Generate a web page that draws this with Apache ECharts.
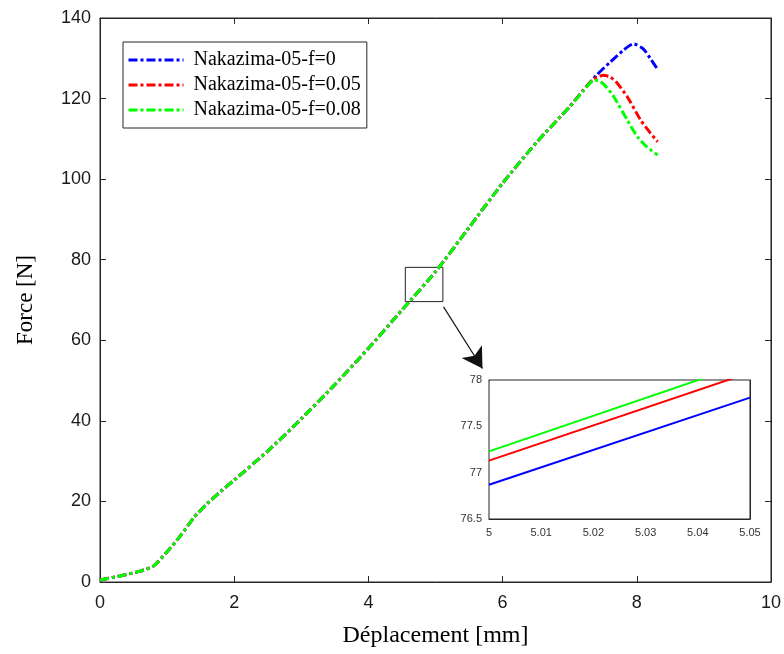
<!DOCTYPE html>
<html>
<head>
<meta charset="utf-8">
<script src="https://cdn.jsdelivr.net/npm/echarts@6/dist/echarts.min.js"></script>
<style>
html,body{margin:0;padding:0;background:#fff;}
#c{width:784px;height:654px;}
</style>
</head>
<body>
<div id="c"></div>
<script>
// Shared loading branch (all three curves coincide up to ~7 mm)
var baseX = [0, 0.3, 0.6, 0.8, 1.0, 1.2, 1.4, 1.6, 1.8, 2.0, 2.5, 3.0, 3.5, 4.0, 4.5, 5.0, 5.5, 6.0, 6.5, 7.0];
var baseY = [0.5, 1.5, 2.7, 4.0, 7.5, 11.5, 16, 19.5, 22.5, 25.3, 32.5, 40.5, 49, 58, 67.5, 77, 88, 99, 109, 118];
// Tails after the shared branch
var blueTailX = [7.2, 7.4, 7.6, 7.8, 7.95, 8.1, 8.2, 8.3];
var blueTailY = [122, 125.8, 129, 132, 133.6, 132.3, 130, 127.5];
var redTailX = [7.2, 7.35, 7.5, 7.6, 7.7, 7.86, 8.06, 8.2, 8.31];
var redTailY = [122, 124.8, 125.8, 125.4, 124, 120.4, 114.6, 111.5, 109.3];
var greenTailX = [7.2, 7.36, 7.46, 7.56, 7.66, 7.86, 8.01, 8.15, 8.31];
var greenTailY = [121.8, 124.6, 124.2, 122.6, 120.4, 114.6, 110.5, 108, 106];
// Inset (zoom) values
var insetX = [5, 5.05];
var insetBlue = [76.87, 77.81];
var insetRed = [77.13, 78.08];
var insetGreen = [77.23, 78.19];
// Zoom window marked on the main plot
var zoomBoxX = [4.55, 5.11];
var zoomBoxY = [69.6, 78.1];
var arrowFrom = [5.12, 68.3];
var arrowTo = [5.70, 53.0];

var names = ['Nakazima-05-f=0', 'Nakazima-05-f=0.05', 'Nakazima-05-f=0.08'];
var colors = ['#0000ff', '#ff0000', '#00ff00'];

function pairs(xs, ys) { var o = []; for (var i = 0; i < xs.length; i++) o.push([xs[i], ys[i]]); return o; }
var blueData = pairs(baseX.concat(blueTailX), baseY.concat(blueTailY));
var redData = pairs(baseX.concat(redTailX), baseY.concat(redTailY));
var greenData = pairs(baseX.concat(greenTailX), baseY.concat(greenTailY));

var axCol = '#262626';
var sans = 'Liberation Sans, Arial, sans-serif';
var serif = 'Liberation Serif, Times New Roman, serif';
var dash = [9, 3, 3, 3];

function mainSeries(i, data) {
  return {
    name: names[i], type: 'line', xAxisIndex: 0, yAxisIndex: 0, data: data,
    showSymbol: false, symbol: 'none', smooth: 0.2,
    lineStyle: { color: colors[i], width: 3, type: dash },
    itemStyle: { color: colors[i] }, z: 3 + i
  };
}
function insetSeries(i, ys) {
  return {
    name: 'inset' + i, type: 'line', xAxisIndex: 2, yAxisIndex: 2, data: pairs(insetX, ys),
    showSymbol: false, symbol: 'none', clip: true,
    lineStyle: { color: colors[i], width: 2, type: 'solid' }, z: 10 + i
  };
}
function axLine() { return { show: true, onZero: false, lineStyle: { color: axCol } }; }
function tick(len) { return { show: true, inside: true, length: len, lineStyle: { color: axCol } }; }

var chart = echarts.init(document.getElementById('c'));
chart.setOption({
  backgroundColor: '#ffffff',
  animation: false,
  grid: [
    { left: 100, right: 13, top: 18, bottom: 72, show: true, borderColor: axCol, borderWidth: 1, backgroundColor: 'transparent' },
    { left: 489, top: 380, width: 261, height: 139, show: true, borderColor: axCol, borderWidth: 1, backgroundColor: '#ffffff', z: 8 }
  ],
  legend: {
    data: names, orient: 'vertical', left: 123, top: 42,
    padding: [8, 6, 8, 4], itemGap: 5, itemWidth: 55, itemHeight: 20,
    borderColor: axCol, borderWidth: 1, backgroundColor: '#ffffff',
    itemStyle: { opacity: 0 },
    lineStyle: { width: 3 },
    textStyle: { fontFamily: serif, fontSize: 20, color: '#000', padding: [0, 0, 0, 5] }
  },
  xAxis: [
    { gridIndex: 0, type: 'value', min: 0, max: 10, interval: 2, position: 'bottom',
      name: 'Déplacement [mm]', nameLocation: 'middle', nameGap: 42,
      nameTextStyle: { fontFamily: serif, fontSize: 24, color: '#000' },
      axisLine: axLine(), axisTick: tick(6),
      axisLabel: { fontFamily: sans, fontSize: 18, color: '#1a1a1a', margin: 12 },
      splitLine: { show: false } },
    { gridIndex: 0, type: 'value', min: 0, max: 10, interval: 2, position: 'top',
      axisLine: axLine(), axisTick: tick(6),
      axisLabel: { show: false }, splitLine: { show: false } },
    { gridIndex: 1, type: 'value', min: 5, max: 5.05, interval: 0.01, position: 'bottom',
      axisLine: axLine(), axisTick: tick(4),
      axisLabel: { fontFamily: sans, fontSize: 11, color: '#333', margin: 8,
        formatter: function (v) { return String(Math.round(v * 100) / 100); } },
      splitLine: { show: false } },
    { gridIndex: 1, type: 'value', min: 5, max: 5.05, interval: 0.01, position: 'top',
      axisLine: axLine(), axisTick: tick(4),
      axisLabel: { show: false }, splitLine: { show: false } }
  ],
  yAxis: [
    { gridIndex: 0, type: 'value', min: 0, max: 140, interval: 20, position: 'left',
      name: 'Force [N]', nameLocation: 'middle', nameGap: 63, nameRotate: 90,
      nameTextStyle: { fontFamily: serif, fontSize: 23, color: '#000' },
      axisLine: axLine(), axisTick: tick(6),
      axisLabel: { fontFamily: sans, fontSize: 18, color: '#1a1a1a', margin: 9 },
      splitLine: { show: false } },
    { gridIndex: 0, type: 'value', min: 0, max: 140, interval: 20, position: 'right',
      axisLine: axLine(), axisTick: tick(6),
      axisLabel: { show: false }, splitLine: { show: false } },
    { gridIndex: 1, type: 'value', min: 76.5, max: 78, interval: 0.5, position: 'left',
      axisLine: axLine(), axisTick: tick(4),
      axisLabel: { fontFamily: sans, fontSize: 11, color: '#333', margin: 7 },
      splitLine: { show: false } },
    { gridIndex: 1, type: 'value', min: 76.5, max: 78, interval: 0.5, position: 'right',
      axisLine: axLine(), axisTick: tick(4),
      axisLabel: { show: false }, splitLine: { show: false } }
  ],
  series: [
    mainSeries(0, blueData),
    mainSeries(1, redData),
    mainSeries(2, greenData),
    {
      name: 'zoomMarks', type: 'line', xAxisIndex: 0, yAxisIndex: 0, data: [],
      symbol: 'none', silent: true, z: 7,
      markArea: {
        silent: true,
        itemStyle: { color: 'rgba(0,0,0,0)', borderColor: '#222', borderWidth: 1 },
        data: [[{ coord: [zoomBoxX[0], zoomBoxY[1]] }, { coord: [zoomBoxX[1], zoomBoxY[0]] }]]
      },
      markLine: {
        silent: true, symbol: ['none', 'arrow'], symbolSize: [18, 20],
        lineStyle: { color: '#111', width: 1.2, type: 'solid' },
        label: { show: false },
        data: [[{ coord: arrowFrom }, { coord: arrowTo }]]
      }
    },
    insetSeries(0, insetBlue),
    insetSeries(1, insetRed),
    insetSeries(2, insetGreen)
  ]
});
</script>
</body>
</html>
